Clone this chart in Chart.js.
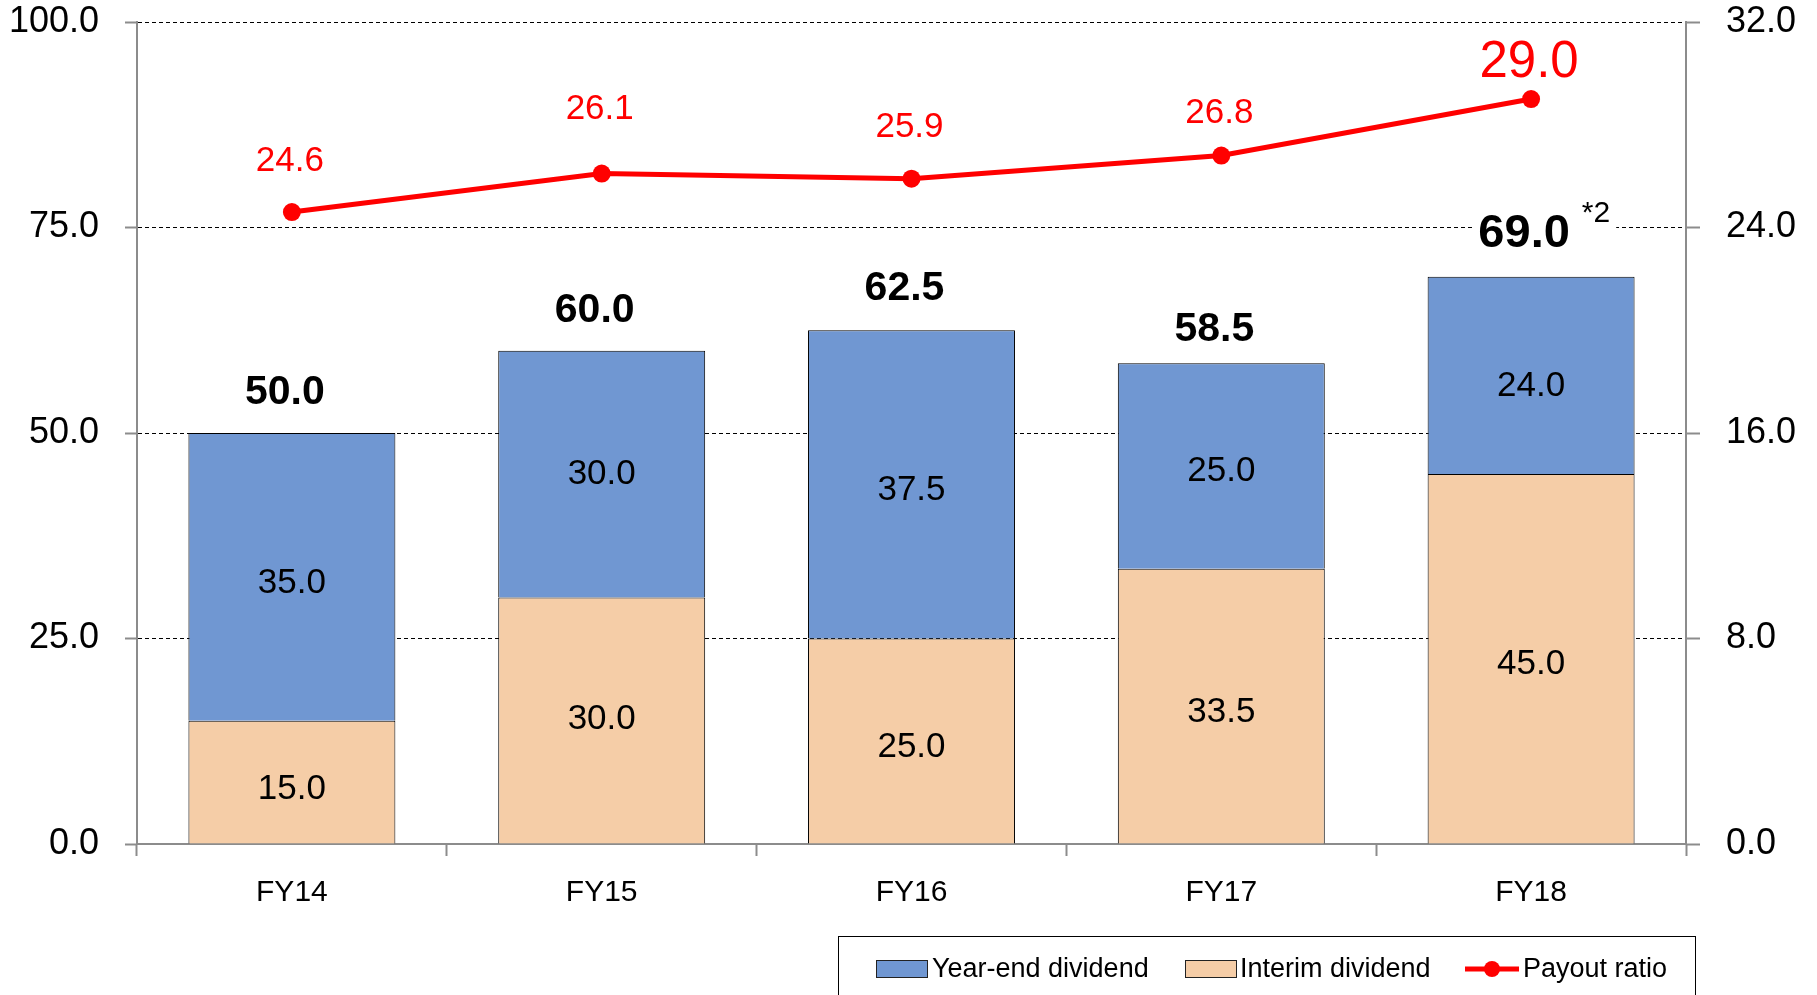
<!DOCTYPE html>
<html>
<head>
<meta charset="utf-8">
<script src="https://cdn.jsdelivr.net/npm/chart.js@4.4.1/dist/chart.umd.min.js"></script>
<style>
  html, body { margin: 0; padding: 0; background: #fff; }
  #wrap { width: 1817px; height: 995px; }
</style>
</head>
<body>
<div id="wrap"><canvas id="c" width="1817" height="995"></canvas></div>
<script>
// ---- data ----
const categories = ['FY14', 'FY15', 'FY16', 'FY17', 'FY18'];
const interimDividend = [15.0, 30.0, 25.0, 33.5, 45.0];
const yearEndDividend = [35.0, 30.0, 37.5, 25.0, 24.0];
const totalDividend = [50.0, 60.0, 62.5, 58.5, 69.0];
const payoutRatio = [24.6, 26.1, 25.9, 26.8, 29.0];
const leftTicks = [0, 25, 50, 75, 100];
const rightTicks = [0, 8, 16, 24, 32];
const seriesNames = ['Year-end dividend', 'Interim dividend', 'Payout ratio'];
const totalNote = ['', '', '', '', '*2'];

// ---- label styling (not data) ----
const totalFontSizes = [41, 41, 41, 41, 47];
const totalOffsets = [40, 40, 42, 33, 43];
const payoutFontSizes = [35, 35, 35, 35, 51];
const payoutOffsets = [51, 64, 51, 42, 36];
const interimLabelShift = [7, -1, 6, 6, 6];
const yearEndLabelShift = [6, 0, 6, 5, 11];

const FONT = '"Liberation Sans", Arial, Helvetica, sans-serif';
const BLUE = '#7097D2';
const PEACH = '#F5CDA7';
const RED = '#FF0000';
const AXIS = '#8C8C8C';

const labelPlugin = {
  id: 'labels',
  afterDatasetsDraw(chart) {
    const ctx = chart.ctx;
    const metaInterim = chart.getDatasetMeta(0);
    const metaYear = chart.getDatasetMeta(1);
    const metaLine = chart.getDatasetMeta(2);
    ctx.save();
    ctx.textAlign = 'center';
    ctx.textBaseline = 'middle';
    // segment labels
    [[metaInterim, interimDividend, interimLabelShift], [metaYear, yearEndDividend, yearEndLabelShift]].forEach(([meta, vals, shift]) => {
      meta.data.forEach((el, i) => {
        ctx.font = '35px ' + FONT;
        ctx.fillStyle = '#000';
        ctx.fillText(vals[i].toFixed(1), el.x, (el.y + el.base) / 2 + shift[i]);
      });
    });
    // totals
    metaYear.data.forEach((el, i) => {
      ctx.font = 'bold ' + totalFontSizes[i] + 'px ' + FONT;
      const txt = totalDividend[i].toFixed(1);
      const w = ctx.measureText(txt).width;
      const tx = el.x - 7, ty = el.y - totalOffsets[i];
      const h = totalFontSizes[i];
      let extra = 0;
      if (totalNote[i]) {
        ctx.font = '30px ' + FONT;
        extra = 12 + ctx.measureText(totalNote[i]).width;
        ctx.font = 'bold ' + totalFontSizes[i] + 'px ' + FONT;
      }
      ctx.fillStyle = '#fff';
      ctx.fillRect(tx - w / 2 - 6, ty - h * 0.55, w + 12 + extra, h * 1.1);
      ctx.fillStyle = '#000';
      ctx.textAlign = 'center';
      ctx.fillText(txt, tx, ty);
      if (totalNote[i]) {
        ctx.font = '30px ' + FONT;
        ctx.textAlign = 'left';
        ctx.fillText(totalNote[i], tx + w / 2 + 12, ty - 20);
      }
    });
    // payout labels
    ctx.textAlign = 'center';
    metaLine.data.forEach((el, i) => {
      ctx.font = payoutFontSizes[i] + 'px ' + FONT;
      ctx.fillStyle = RED;
      ctx.fillText(payoutRatio[i].toFixed(1), el.x - 2, el.y - payoutOffsets[i]);
    });
    ctx.restore();
  },
  afterDraw(chart) {
    const ctx = chart.ctx;
    ctx.save();
    // legend box
    ctx.strokeStyle = '#000';
    ctx.lineWidth = 1;
    ctx.strokeRect(838.5, 936.5, 857, 80);
    ctx.font = '27px ' + FONT;
    ctx.textBaseline = 'middle';
    ctx.textAlign = 'left';
    const ly = 970;
    // Year-end swatch
    ctx.fillStyle = chart.data.datasets[1].backgroundColor;
    ctx.fillRect(876, 960, 51, 17);
    ctx.strokeStyle = '#222';
    ctx.strokeRect(876.5, 960.5, 51, 17);
    ctx.fillStyle = '#000';
    ctx.fillText(seriesNames[0], 932, ly);
    // Interim swatch
    ctx.fillStyle = chart.data.datasets[0].backgroundColor;
    ctx.fillRect(1185, 960, 51, 17);
    ctx.strokeStyle = '#222';
    ctx.strokeRect(1185.5, 960.5, 51, 17);
    ctx.fillStyle = '#000';
    ctx.fillText(seriesNames[1], 1240, ly);
    // Payout line marker
    ctx.strokeStyle = RED;
    ctx.lineWidth = 5;
    ctx.beginPath();
    ctx.moveTo(1465, 969);
    ctx.lineTo(1519, 969);
    ctx.stroke();
    ctx.fillStyle = RED;
    ctx.beginPath();
    ctx.arc(1492, 969, 8, 0, Math.PI * 2);
    ctx.fill();
    ctx.fillStyle = '#000';
    ctx.fillText(seriesNames[2], 1523, ly);
    ctx.restore();
  }
};

new Chart(document.getElementById('c'), {
  data: {
    labels: categories,
    datasets: [
      {
        type: 'bar', label: seriesNames[1], data: interimDividend,
        backgroundColor: PEACH, borderColor: '#000', borderWidth: 1,
        yAxisID: 'y', stack: 's', order: 1,
        categoryPercentage: 1.0, barPercentage: 0.668
      },
      {
        type: 'bar', label: seriesNames[0], data: yearEndDividend,
        backgroundColor: BLUE, borderColor: '#000', borderWidth: 1,
        yAxisID: 'y', stack: 's', order: 1,
        categoryPercentage: 1.0, barPercentage: 0.668
      },
      {
        type: 'line', label: seriesNames[2], data: payoutRatio,
        borderColor: RED, backgroundColor: RED, borderWidth: 5,
        pointRadius: 9, pointHoverRadius: 9, pointBorderWidth: 0,
        pointBackgroundColor: RED, tension: 0,
        yAxisID: 'y1', order: 0
      }
    ]
  },
  options: {
    responsive: false,
    devicePixelRatio: 1,
    animation: false,
    layout: { padding: { left: 0, right: 0, top: 22, bottom: 0 } },
    plugins: { legend: { display: false }, tooltip: { enabled: false } },
    scales: {
      x: {
        stacked: true,
        grid: {
          offset: true, drawOnChartArea: false, drawTicks: true,
          tickLength: 12, tickColor: AXIS, tickWidth: 2, tickBorderDash: []
        },
        border: { display: true, color: AXIS, width: 2 },
        ticks: { font: { family: FONT, size: 30 }, color: '#000', padding: 19 },
        afterFit(scale) { scale.height = 151; scale.paddingLeft = 0; scale.paddingRight = 0; }
      },
      y: {
        position: 'left', stacked: true, min: 0, max: 100,
        afterBuildTicks(scale) { scale.ticks = leftTicks.map(v => ({ value: v })); },
        grid: {
          color: (c) => (c.tick && c.tick.value === 0) ? 'rgba(0,0,0,0)' : '#000',
          lineWidth: 1, drawTicks: true, tickLength: 12,
          tickColor: AXIS, tickWidth: 2, tickBorderDash: []
        },
        border: { display: true, color: AXIS, width: 2, dash: [4, 3] },
        ticks: {
          font: { family: FONT, size: 36 }, color: '#000', padding: 26,
          callback: (v) => Number(v).toFixed(1)
        },
        afterFit(scale) { scale.width = 137; scale.paddingTop = 0; scale.paddingBottom = 0; }
      },
      y1: {
        position: 'right', min: 0, max: 32,
        afterBuildTicks(scale) { scale.ticks = rightTicks.map(v => ({ value: v })); },
        grid: {
          drawOnChartArea: false, drawTicks: true, tickLength: 14,
          tickColor: AXIS, tickWidth: 2, tickBorderDash: []
        },
        border: { display: true, color: AXIS, width: 2 },
        ticks: {
          font: { family: FONT, size: 36 }, color: '#000', padding: 26,
          callback: (v) => Number(v).toFixed(1)
        },
        afterFit(scale) { scale.width = 131; scale.paddingTop = 0; scale.paddingBottom = 0; }
      }
    }
  },
  plugins: [labelPlugin]
});
</script>
</body>
</html>
